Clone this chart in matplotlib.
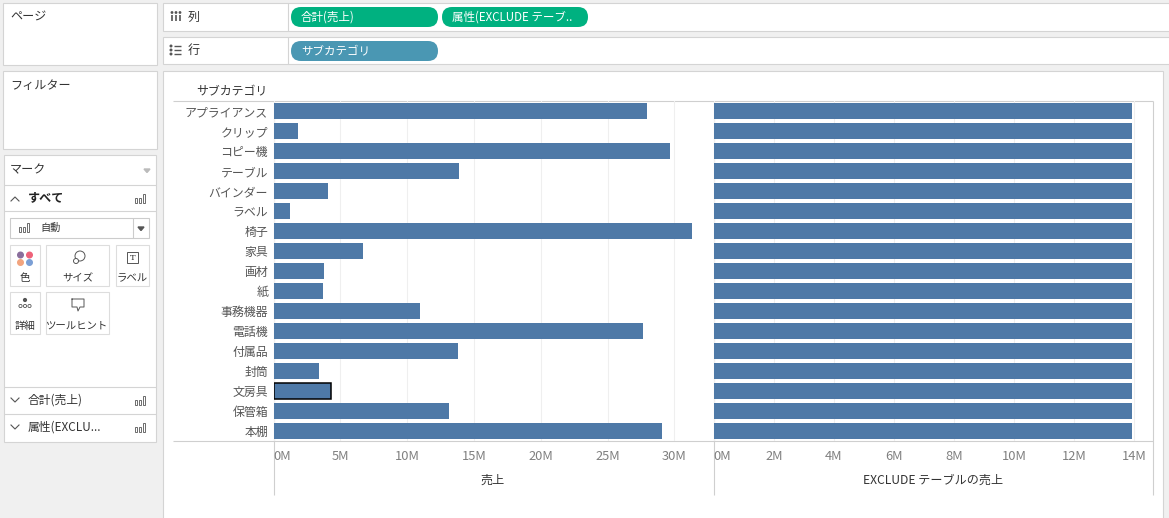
import matplotlib
matplotlib.use("Agg")
import matplotlib.pyplot as plt
from matplotlib.patches import Rectangle, FancyBboxPatch, Circle, Polygon

plt.rcParams['font.family'] = ['Noto Sans CJK JP', 'DejaVu Sans']

# data (values in millions)
subcategories = ["アプライアンス", "クリップ", "コピー機", "テーブル", "バインダー", "ラベル",
                 "椅子", "家具", "画材", "紙", "事務機器", "電話機", "付属品", "封筒",
                 "文房具", "保管箱", "本棚"]
sales = [27.96, 1.82, 29.67, 13.87, 4.06, 1.23, 31.33, 6.68, 3.77, 3.69,
         10.96, 27.64, 13.79, 3.40, 4.28, 13.13, 29.09]
exclude_sales = [13.92] * 17
sales_ticks = [0, 5, 10, 15, 20, 25, 30]
exclude_ticks = [0, 2, 4, 6, 8, 10, 12, 14]
selected = "文房具"

W, H = 1169, 518
BAR = "#4e79a7"
BORDER = "#d4d4d4"
TXT = "#333333"

fig = plt.figure(figsize=(W / 100, H / 100), dpi=100)
fig.patch.set_facecolor("#f0f0f0")

# background axes in pixel coordinates for the Tableau UI
bg = fig.add_axes([0, 0, 1, 1])
bg.set_xlim(0, W)
bg.set_ylim(H, 0)
bg.axis("off")


def box(x0, y0, x1, y1, fc="white", ec=BORDER, lw=0.8):
    bg.add_patch(Rectangle((x0, y0), x1 - x0, y1 - y0, facecolor=fc, edgecolor=ec, linewidth=lw))


def line(xs, ys, c=BORDER, lw=0.8):
    bg.plot(xs, ys, color=c, lw=lw, solid_capstyle="butt")


def txt(x, y, s, size=8.5, c=TXT, ha="left", **kw):
    bg.text(x, y, s, fontsize=size, color=c, ha=ha, va="center", **kw)


def pill(x0, x1, y0, y1, color, label):
    bg.add_patch(FancyBboxPatch((x0, y0), x1 - x0, y1 - y0,
                                boxstyle="round,pad=0,rounding_size=10",
                                facecolor=color, edgecolor="none"))
    txt(x0 + 10, (y0 + y1) / 2, label, size=8.3, c="white")


def bar_icon(x, y):
    for i, h in enumerate([5, 5, 9]):
        bg.add_patch(Rectangle((x + i * 4, y - h), 2.2, h, facecolor="none", edgecolor="#555", lw=0.6))


# left side panels
box(3, 3, 157, 65)
txt(10, 17, "ページ", size=8.7)
box(3, 71, 157, 149)
txt(10, 86, "フィルター", size=8.7)
box(4, 155, 156, 442)
txt(10, 170, "マーク", size=8.7)
bg.add_patch(Polygon([(144, 169), (150, 169), (147, 172.5)], color="#bbbbbb"))
line([4, 156], [185, 185])
bg.plot([11, 15, 19], [201, 197, 201], color="#555", lw=0.8)
txt(28, 198, "すべて", size=8.7, weight="bold", c="#222")
bar_icon(135, 203)
line([4, 156], [211, 211])

# mark type dropdown
box(10, 218, 149, 238, ec="#cccccc")
line([133, 133], [218, 238], c="#cccccc")
bg.add_patch(Polygon([(138, 227), (144, 227), (141, 230.5)], color="#555"))
bar_icon(19, 232)
txt(40, 228, "自動", size=7.3)

# mark buttons
box(10, 245, 40, 286, ec="#dddddd")
for (cx, cy), col in zip([(20.5, 255), (29.5, 255), (20.5, 262.5), (29.5, 262.5)],
                         ["#8a6e9c", "#ee6279", "#f2a47e", "#7b9fd5"]):
    bg.add_patch(Circle((cx, cy), 2.8, color=col))
txt(25, 278, "色", size=7.5, ha="center")
box(46, 245, 109, 286, ec="#dddddd")
bg.add_patch(Circle((80, 256), 5, facecolor="none", edgecolor="#555", lw=0.7))
bg.add_patch(Circle((76, 261), 2.5, facecolor="white", edgecolor="#555", lw=0.7))
txt(77.5, 278, "サイズ", size=7.5, ha="center")
box(116, 245, 149, 286, ec="#dddddd")
box(127, 252, 138, 263, fc="none", ec="#555", lw=0.7)
txt(132.5, 257.5, "T", size=6, ha="center", family="DejaVu Serif")
txt(132.5, 278, "ラベル", size=7.5, ha="center")
box(10, 292, 40, 334, ec="#dddddd")
bg.add_patch(Circle((25, 300), 1.4, color="#555"))
for cx in (20.5, 25, 29.5):
    bg.add_patch(Circle((cx, 306), 1.6, facecolor="none", edgecolor="#555", lw=0.6))
txt(25, 326, "詳細", size=7.5, ha="center")
box(46, 292, 109, 334, ec="#dddddd")
bg.plot([72, 84, 84, 80, 78, 77, 72, 72], [299, 299, 307, 307, 311, 307, 307, 299], color="#555", lw=0.7)
txt(77.5, 326, "ツールヒント", size=7.5, ha="center")

line([4, 156], [387, 387])
bg.plot([11, 15, 19], [398, 402, 398], color="#555", lw=0.8)
txt(28, 400, "合計(売上)", size=8.5)
bar_icon(135, 405)
line([4, 156], [414, 414])
bg.plot([11, 15, 19], [425, 429, 425], color="#555", lw=0.8)
txt(28, 427, "属性(EXCLU...", size=8.5)
bar_icon(135, 432)

# column / row shelves
box(163, 3, 1170, 31)
line([288, 288], [3, 31])
for dx in (172, 176, 180):
    line([dx, dx], [15, 21], c="#555", lw=1.2)
    bg.add_patch(Circle((dx, 12.5), 0.7, color="#555"))
txt(188, 17, "列", size=8.7)
pill(291, 438, 7, 27, "#00b180", "合計(売上)")
pill(442, 588, 7, 27, "#00b180", "属性(EXCLUDE テーブ..")

box(163, 37, 1170, 64)
line([288, 288], [37, 64])
for dy in (46, 50, 54):
    bg.add_patch(Circle((171, dy), 0.8, color="#555"))
    line([174, 181], [dy, dy], c="#555", lw=1.0)
txt(188, 50, "行", size=8.7)
pill(291, 438, 41, 61, "#4a97b3", "サブカテゴリ")

# main view area
box(163, 71, 1163, 530)

# chart frame lines
line([173, 1153], [101, 101], c="#cfcfcf")
line([173, 1153], [441, 441], c="#cfcfcf")
for vx in (273.6, 713.5, 1153):
    line([vx, vx], [101, 495], c="#cfcfcf")
txt(196, 92, "サブカテゴリ", size=8.6)
txt(493, 480, "売上", size=8.7, ha="center")
txt(933.5, 480, "EXCLUDE テーブルの売上", size=8.7, ha="center")


def pane(x0, x1, values, ticks, xmax, first):
    ax = fig.add_axes([x0 / W, (H - 441) / H, (x1 - x0) / W, 340 / H])
    ax.set_facecolor("none")
    bars = ax.barh(range(len(values)), values, height=0.78, color=BAR, zorder=2)
    if first:
        # highlighted (selected) mark
        bars[subcategories.index(selected)].set_edgecolor("black")
        bars[subcategories.index(selected)].set_linewidth(1.1)
    ax.set_ylim(len(values) - 0.5, -0.5)
    ax.set_xlim(0, xmax)
    ax.set_xticks(ticks, [f"{t}M" for t in ticks])
    ax.xaxis.get_major_ticks()[0].label1.set_horizontalalignment("left")
    ax.grid(axis="x", color="#efefef", lw=0.8, zorder=0)
    ax.tick_params(axis="x", length=0, pad=6.5, labelsize=9.3, labelcolor="#808080")
    if first:
        ax.set_yticks(range(len(values)), subcategories)
        ax.tick_params(axis="y", length=0, pad=4, labelsize=8.6, labelcolor="#555555")
    else:
        ax.set_yticks([])
    for s in ax.spines.values():
        s.set_visible(False)
    return ax


pane(273.6, 713.2, sales, sales_ticks, 32.9, True)
pane(713.7, 1153.3, exclude_sales, exclude_ticks, 14.63, False)

fig.savefig("out.png", dpi=100, facecolor=fig.get_facecolor())
